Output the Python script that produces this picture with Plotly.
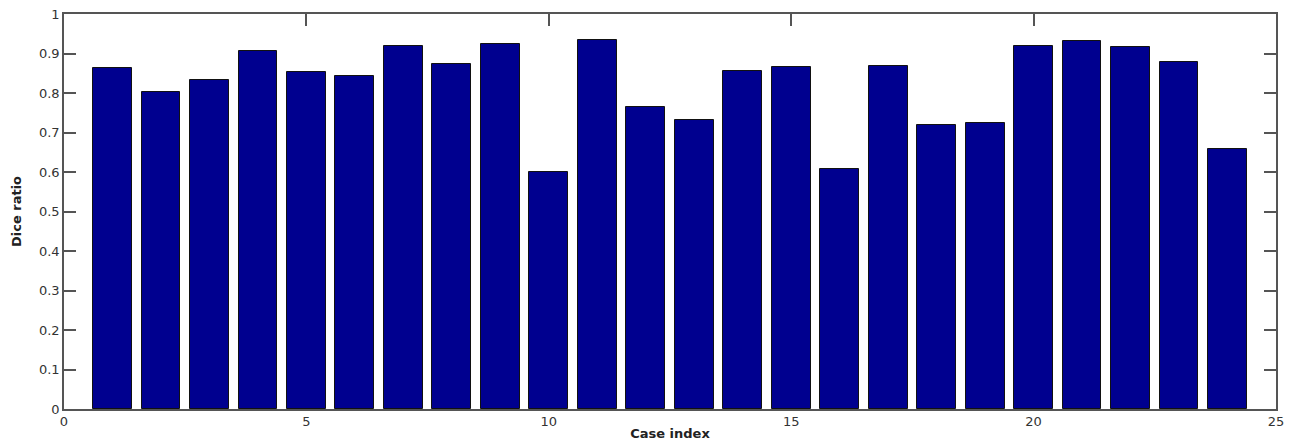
import plotly.graph_objects as go

# Dice ratio per case
case_index = list(range(1, 25))
dice_ratio = [0.864, 0.802, 0.832, 0.907, 0.852, 0.843, 0.919, 0.873,
              0.923, 0.600, 0.934, 0.764, 0.732, 0.855, 0.867, 0.608,
              0.869, 0.720, 0.724, 0.920, 0.931, 0.916, 0.878, 0.659]

x_ticks = [0, 5, 10, 15, 20, 25]
y_ticks = [round(0.1 * i, 1) for i in range(11)]
y_tick_text = ["0" if v == 0 else ("1" if v == 1 else f"{v:.1f}") for v in y_ticks]

fig = go.Figure(go.Bar(
    x=case_index,
    y=dice_ratio,
    width=0.8,
    marker=dict(color="#00008F", line=dict(color="#111111", width=1)),
))

axis_common = dict(
    showline=True, linecolor="#555555", linewidth=1.5,
    mirror="ticks", ticks="inside", ticklen=12, tickwidth=1.5,
    tickcolor="#555555", showgrid=False, zeroline=False,
    automargin=False, layer="below traces",
    tickfont=dict(family="DejaVu Sans", size=13, color="#333333"),
)

fig.update_layout(
    width=1299, height=447,
    margin=dict(l=64, r=23, t=14, b=38),
    paper_bgcolor="white", plot_bgcolor="white",
    showlegend=False, bargap=0,
    xaxis=dict(range=[0, 25], tickvals=x_ticks, ticktext=[str(t) for t in x_ticks],
               title=dict(text="<b>Case index</b>", standoff=1,
                          font=dict(family="DejaVu Sans", size=13, color="#222222")),
               **axis_common),
    yaxis=dict(range=[0, 1], tickvals=y_ticks, ticktext=y_tick_text,
               title=dict(text="<b>Dice ratio</b>", standoff=14,
                          font=dict(family="DejaVu Sans", size=13, color="#222222")),
               **axis_common),
)

fig.write_html("out.html")
